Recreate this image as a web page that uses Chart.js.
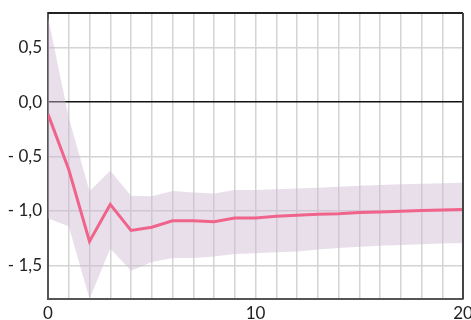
<!DOCTYPE html>
<html>
<head>
<meta charset="utf-8">
<script src="https://cdn.jsdelivr.net/npm/chart.js@4/dist/chart.umd.min.js"></script>
<style>
  html, body { margin: 0; padding: 0; background: #fff; }
  #wrap { width: 471px; height: 320px; position: relative; }
</style>
</head>
<body>
<div id="wrap"><canvas id="c" width="471" height="320"></canvas></div>
<script>
// Horizon (periods after the shock)
const periods = [0,1,2,3,4,5,6,7,8,9,10,11,12,13,14,15,16,17,18,19,20];

// Point estimate of the response
const response = [-0.11,-0.62,-1.28,-0.94,-1.18,-1.15,-1.09,-1.09,-1.10,-1.065,-1.065,
                  -1.05,-1.04,-1.03,-1.025,-1.015,-1.01,-1.003,-0.997,-0.992,-0.988];

// Confidence band
const upperBand = [0.78,-0.14,-0.82,-0.63,-0.86,-0.865,-0.817,-0.83,-0.84,-0.807,-0.807,
                   -0.80,-0.795,-0.786,-0.777,-0.769,-0.761,-0.755,-0.75,-0.745,-0.74];
const lowerBand = [-1.07,-1.14,-1.81,-1.346,-1.55,-1.47,-1.434,-1.434,-1.42,-1.397,-1.39,
                   -1.38,-1.373,-1.355,-1.34,-1.33,-1.32,-1.313,-1.306,-1.30,-1.294];

// Axis ticks
const xTickValues = [0,10,20];
const xTickLabels = ['0','10','20'];
const yTickValues = [0.5,0,-0.5,-1,-1.5];
const yTickLabels = ['0,5','0,0','- 0,5','- 1,0','- 1,5'];

const toPoints = arr => periods.map((p, i) => ({ x: p, y: arr[i] }));

// Let the layout padding alone decide where the plot area sits
function dropLabelPadding(scale) {
  scale.paddingTop = 0;
  scale.paddingBottom = 0;
  scale.paddingLeft = 0;
  scale.paddingRight = 0;
}

// Frame on the top and right edges of the plot area
const framePlugin = {
  id: 'frame',
  afterDatasetsDraw(chart) {
    const { ctx, chartArea: a } = chart;
    ctx.save();
    ctx.lineWidth = 2;
    ctx.strokeStyle = '#222';
    ctx.beginPath();
    ctx.moveTo(a.left, a.top);
    ctx.lineTo(a.right, a.top);
    ctx.stroke();
    ctx.strokeStyle = '#444';
    ctx.beginPath();
    ctx.moveTo(a.right, a.top);
    ctx.lineTo(a.right, a.bottom);
    ctx.stroke();
    ctx.restore();
  }
};

const font = { family: 'Lato, "Open Sans", sans-serif', size: 17 };

new Chart(document.getElementById('c'), {
  type: 'line',
  data: {
    datasets: [
      {
        label: 'response',
        data: toPoints(response),
        borderColor: '#f0648c',
        borderWidth: 3,
        pointRadius: 0,
        tension: 0,
        fill: false,
        order: 0
      },
      {
        label: 'upper',
        data: toPoints(upperBand),
        borderWidth: 0,
        borderColor: 'rgba(0,0,0,0)',
        backgroundColor: 'rgba(205,185,210,0.45)',
        pointRadius: 0,
        tension: 0,
        fill: '+1',
        order: 1
      },
      {
        label: 'lower',
        data: toPoints(lowerBand),
        borderWidth: 0,
        borderColor: 'rgba(0,0,0,0)',
        pointRadius: 0,
        tension: 0,
        fill: false,
        order: 2
      }
    ]
  },
  options: {
    responsive: false,
    animation: false,
    devicePixelRatio: 1,
    layout: { padding: { top: 13, right: 8, left: 0, bottom: 0 } },
    plugins: { legend: { display: false }, tooltip: { enabled: false } },
    scales: {
      x: {
        type: 'linear',
        min: 0,
        max: 20,
        afterBuildTicks(scale) {
          scale.ticks = periods.map(v => ({ value: v }));
        },
        afterFit(scale) { scale.height = 21; dropLabelPadding(scale); },
        ticks: {
          autoSkip: false,
          maxRotation: 0,
          padding: 4,
          color: '#222',
          font,
          callback(v) {
            const i = xTickValues.indexOf(v);
            return i >= 0 ? xTickLabels[i] : '';
          }
        },
        grid: { color: '#d4d4d4', lineWidth: 1.5, drawTicks: false },
        border: { color: '#555', width: 2 }
      },
      y: {
        type: 'linear',
        min: -1.81,
        max: 0.82,
        afterBuildTicks(scale) {
          scale.ticks = yTickValues.map(v => ({ value: v }));
        },
        afterFit(scale) { scale.width = 48; dropLabelPadding(scale); },
        ticks: {
          padding: 6,
          color: '#222',
          font,
          callback(v) {
            const i = yTickValues.indexOf(v);
            return i >= 0 ? yTickLabels[i] : '';
          }
        },
        grid: {
          drawTicks: false,
          color: c => (c.tick && c.tick.value === 0 ? '#111' : '#d4d4d4'),
          lineWidth: c => (c.tick && c.tick.value === 0 ? 1.6 : 1.5)
        },
        border: { color: '#555', width: 2 }
      }
    }
  },
  plugins: [framePlugin]
});
</script>
</body>
</html>
